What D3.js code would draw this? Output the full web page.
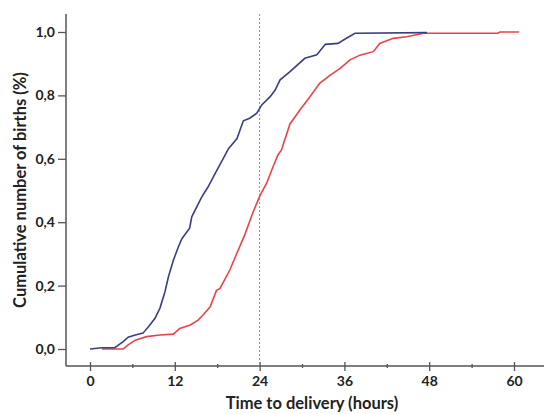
<!DOCTYPE html>
<html>
<head>
<meta charset="utf-8">
<script src="https://cdn.jsdelivr.net/npm/d3@7"></script>
<style>
  body { margin: 0; background: #fff; }
  text { font-family: Lato, "DejaVu Sans", sans-serif; font-weight: bold; fill: #222; }
</style>
</head>
<body>
<div id="chart"></div>
<script>
// hours and cumulative proportion
var blueHours = [0, 1.7, 3.5, 4.7, 5.4, 6.4, 7.5, 8.3, 9.2, 9.9, 10.6, 11.1, 11.8, 12.5, 13.0, 13.7, 14.1, 14.4, 15.8, 16.7, 17.7, 18.6, 19.6, 20.8, 21.7, 22.6, 23.6, 24.3, 25.5, 26.2, 26.9, 28.3, 30.4, 32.1, 33.3, 35.1, 36.1, 37.5, 47.7];
var blueCum = [0, 0.004, 0.004, 0.023, 0.037, 0.044, 0.05, 0.071, 0.097, 0.129, 0.18, 0.228, 0.28, 0.322, 0.348, 0.369, 0.381, 0.417, 0.479, 0.511, 0.553, 0.59, 0.632, 0.664, 0.72, 0.728, 0.744, 0.77, 0.796, 0.817, 0.849, 0.875, 0.917, 0.928, 0.961, 0.964, 0.978, 0.996, 0.998];

var redHours = [1.7, 4.7, 5.4, 6.4, 8.0, 9.9, 11.8, 12.7, 14.2, 15.3, 16.0, 17.0, 17.9, 18.4, 19.8, 20.8, 21.9, 23.1, 24.1, 25.0, 25.9, 26.6, 27.1, 27.4, 28.3, 29.7, 31.1, 32.5, 34.0, 35.4, 36.8, 38.2, 40.1, 41.0, 42.9, 44.8, 47.2, 57.7, 58.0, 60.7];
var redCum = [0, 0, 0.013, 0.028, 0.039, 0.044, 0.047, 0.065, 0.076, 0.091, 0.107, 0.133, 0.185, 0.191, 0.25, 0.303, 0.36, 0.433, 0.486, 0.523, 0.575, 0.612, 0.628, 0.649, 0.71, 0.754, 0.795, 0.838, 0.864, 0.885, 0.912, 0.927, 0.938, 0.964, 0.98, 0.985, 0.996, 0.996, 1.0, 1.0];

var xTicks = [0, 12, 24, 36, 48, 60];
var xMinorTicks = [6, 18, 30, 42, 54];
var yTicks = [0, 0.2, 0.4, 0.6, 0.8, 1.0];
var cutoffHour = 24;

var width = 544, height = 414;
var axisX = 66, axisY = 366, axisTop = 14;

var svg = d3.select("#chart").append("svg")
    .attr("width", width)
    .attr("height", height);

var x = d3.scaleLinear().domain([0, 60]).range([90, 514]);
var y = d3.scaleLinear().domain([0, 1]).range([349, 32]);

var axisColor = "#555";

// axis lines
svg.append("line")
    .attr("x1", axisX).attr("x2", axisX)
    .attr("y1", axisTop).attr("y2", axisY)
    .attr("stroke", axisColor).attr("stroke-width", 1.5);
svg.append("line")
    .attr("x1", axisX).attr("x2", width)
    .attr("y1", axisY).attr("y2", axisY)
    .attr("stroke", axisColor).attr("stroke-width", 1.5);

// x axis, major ticks cross the line
var gx = svg.append("g")
    .attr("transform", "translate(0," + axisY + ")")
    .call(d3.axisBottom(x).tickValues(xTicks).tickSize(5).tickPadding(5));
gx.select(".domain").remove();
gx.selectAll(".tick line").attr("y1", -4).attr("stroke", axisColor).attr("stroke-width", 1.3);
gx.selectAll(".tick text").attr("font-size", 14).attr("font-family", null);

var gxm = svg.append("g")
    .attr("transform", "translate(0," + axisY + ")")
    .call(d3.axisBottom(x).tickValues(xMinorTicks).tickSize(2).tickFormat(""));
gxm.select(".domain").remove();
gxm.selectAll(".tick line").attr("y1", -2).attr("stroke", axisColor).attr("stroke-width", 1.3);

// y axis
var gy = svg.append("g")
    .attr("transform", "translate(" + axisX + ",0)")
    .call(d3.axisLeft(y).tickValues(yTicks).tickSize(8).tickPadding(3)
        .tickFormat(function(d) { return d3.format(".1f")(d).replace(".", ","); }));
gy.select(".domain").remove();
gy.selectAll(".tick line").attr("stroke", axisColor).attr("stroke-width", 1.3);
gy.selectAll(".tick text").attr("font-size", 14).attr("font-family", null);

// 24 hour reference line
svg.append("line")
    .attr("x1", x(cutoffHour)).attr("x2", x(cutoffHour))
    .attr("y1", axisTop).attr("y2", axisY)
    .attr("stroke", "#8a9098").attr("stroke-width", 1)
    .attr("stroke-dasharray", "2,2");

var line = d3.line()
    .x(function(d) { return x(d[0]); })
    .y(function(d) { return y(d[1]); });

svg.append("path")
    .datum(d3.zip(redHours, redCum))
    .attr("fill", "none")
    .attr("stroke", "#e8434a")
    .attr("stroke-width", 1.6)
    .attr("d", line);

svg.append("path")
    .datum(d3.zip(blueHours, blueCum))
    .attr("fill", "none")
    .attr("stroke", "#3a3f85")
    .attr("stroke-width", 1.6)
    .attr("d", line);

// axis titles
svg.append("text")
    .attr("x", 312).attr("y", 409)
    .attr("text-anchor", "middle")
    .attr("font-size", 16.5)
    .text("Time to delivery (hours)");

svg.append("text")
    .attr("transform", "translate(26,190) rotate(-90)")
    .attr("text-anchor", "middle")
    .attr("font-size", 16.5)
    .text("Cumulative number of births (%)");
</script>
</body>
</html>
